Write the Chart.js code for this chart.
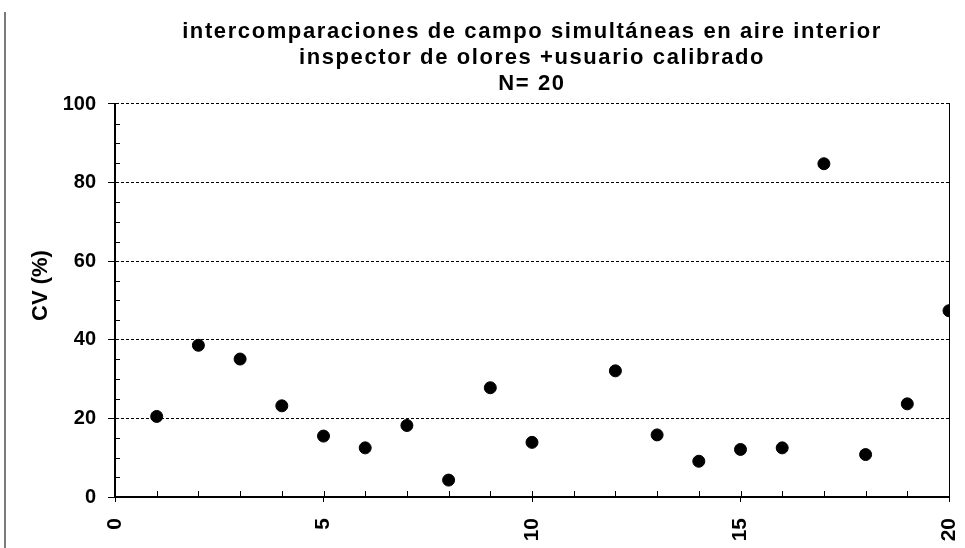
<!DOCTYPE html>
<html>
<head>
<meta charset="utf-8">
<script src="https://cdn.jsdelivr.net/npm/chart.js@4.4.1/dist/chart.umd.min.js"></script>
<style>
html,body{margin:0;padding:0;background:#fff;}
#wrap{position:relative;width:965px;height:548px;}
#edge{position:absolute;left:4px;top:12px;width:0;height:536px;border-left:2px solid #7a7a7a;}
canvas{position:absolute;left:0;top:0;}
</style>
</head>
<body>
<div id="wrap">
<canvas id="c" width="965" height="548"></canvas>
<div id="edge"></div>
</div>
<script>
const titleLines = ['intercomparaciones de campo simultáneas en aire interior', 'inspector de olores +usuario calibrado', 'N= 20'];
const yTitle = 'CV (%)';
const xValues = [1, 2, 3, 4, 5, 6, 7, 8, 9, 10, 12, 13, 14, 15, 16, 17, 18, 19, 20];
const cvValues = [20.5, 38.6, 35.1, 23.2, 15.5, 12.5, 18.2, 4.3, 27.8, 13.9, 32.1, 15.8, 9.1, 12.1, 12.5, 84.8, 10.8, 23.7, 47.4];
const xMin = 0, xMax = 20, xStep = 5;
const yMin = 0, yMax = 100, yStep = 20;

const FONT = '"Liberation Sans", Arial, sans-serif';

const extras = {
  id: 'extras',
  afterDraw(chart) {
    const ctx = chart.ctx, xs = chart.scales.x, ys = chart.scales.y;
    const ca = chart.chartArea;
    ctx.save();
    ctx.strokeStyle = '#000';
    ctx.lineWidth = 1;
    ctx.beginPath();
    for (let v = xMin + 1; v <= xMax; v++) {
      const px = Math.round(xs.getPixelForValue(v)) + 0.5;
      ctx.moveTo(px, ca.bottom - 6);
      ctx.lineTo(px, ca.bottom);
    }
    for (let v = yMin + 5; v < yMax; v += 5) {
      if (v % yStep === 0) continue;
      const py = Math.round(ys.getPixelForValue(v)) + 0.5;
      ctx.moveTo(ca.left, py);
      ctx.lineTo(ca.left + 5, py);
    }
    ctx.stroke();
    // y axis title
    ctx.translate(41, ca.top + (ca.bottom - ca.top) * 0.462);
    ctx.rotate(-Math.PI / 2);
    ctx.fillStyle = '#000';
    ctx.font = 'bold 22px ' + FONT;
    ctx.textAlign = 'center';
    ctx.textBaseline = 'middle';
    ctx.fillText(yTitle, 0, 0);
    ctx.restore();
  }
};

const chart = new Chart(document.getElementById('c'), {
  type: 'scatter',
  data: {
    datasets: [{
      data: xValues.map((x, i) => ({x: x, y: cvValues[i]})),
      backgroundColor: '#000',
      borderColor: '#000',
      pointRadius: 6,
      pointHoverRadius: 6
    }]
  },
  options: {
    responsive: false,
    animation: false,
    events: [],
    layout: {padding: {left: 15, right: 16, top: 0, bottom: 0}},
    plugins: {
      legend: {display: false},
      tooltip: {enabled: false},
      title: {
        display: true,
        text: titleLines,
        fullSize: false,
        color: '#000',
        font: {family: FONT, size: 22, weight: 'bold', lineHeight: 1.1818},
        padding: {top: 19, bottom: 7}
      }
    },
    scales: {
      x: {
        type: 'linear',
        min: xMin, max: xMax,
        border: {display: true, color: '#000', width: 2},
        grid: {display: true, drawOnChartArea: false, drawTicks: true, tickLength: 5, tickColor: '#000', lineWidth: 1},
        ticks: {stepSize: xStep, color: '#000', font: {family: FONT, size: 21, weight: 'bold'}, minRotation: 90, maxRotation: 90, padding: 16},
        afterFit(s) { s.height = 51; s.paddingLeft = 0; s.paddingRight = 0; }
      },
      y: {
        type: 'linear',
        min: yMin, max: yMax,
        border: {display: true, color: '#000', width: 2, dash: [3, 2]},
        grid: {display: true, color: '#000', lineWidth: 1, drawTicks: true, tickLength: 7, tickColor: '#000', tickBorderDash: [], tickWidth: 1},
        ticks: {stepSize: yStep, color: '#000', font: {family: FONT, size: 20, weight: 'bold'}, padding: 12},
        afterFit(s) { s.width = 100; s.paddingTop = 0; s.paddingBottom = 0; }
      },
      y2: {
        type: 'linear',
        position: 'right',
        min: yMin, max: yMax,
        border: {display: true, color: '#000', width: 1},
        grid: {display: false},
        ticks: {display: false},
        afterFit(s) { s.width = 0; }
      }
    }
  },
  plugins: [extras]
});

// widen the title lettering a little, as in the reference
const tb = chart.titleBlock;
if (tb) {
  const origDraw = tb.draw.bind(tb);
  tb.draw = function() {
    const ctx = chart.ctx;
    const prev = ctx.letterSpacing;
    ctx.letterSpacing = '1.6px';
    origDraw();
    ctx.letterSpacing = prev || '0px';
  };
  chart.draw();
}
</script>
</body>
</html>
